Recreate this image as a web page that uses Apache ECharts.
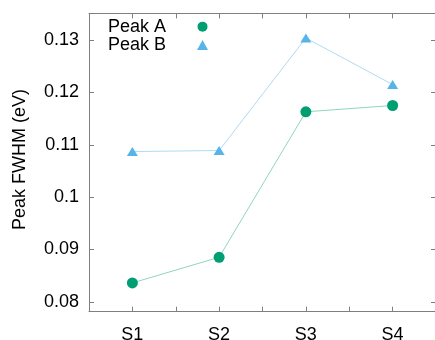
<!DOCTYPE html>
<html>
<head>
<meta charset="utf-8">
<script src="https://cdn.jsdelivr.net/npm/echarts@6/dist/echarts.min.js"></script>
<style>
  html, body { margin: 0; padding: 0; background: #fff; }
  #chart { width: 435px; height: 340px; }
</style>
</head>
<body>
<div id="chart"></div>
<script>
const samples = ['S1', 'S2', 'S3', 'S4']
const peakA = [0.0836, 0.0885, 0.1163, 0.1175]
const peakB = [0.1087, 0.1089, 0.1304, 0.1215]

const fontFamily = '"Liberation Sans", Arial, Helvetica, sans-serif'
const axisGray = '#7f7f7f'

// pair each value with its sample position (1..n)
function toPoints(values) {
  return values.map((v, i) => [i + 1, v])
}

const chart = echarts.init(document.getElementById('chart'))

const xBase = {
  type: 'value',
  min: 0.5,
  max: 4.5,
  interval: 0.5,
  splitLine: { show: false },
  axisLine: { lineStyle: { color: axisGray, width: 1 } },
  axisTick: { inside: true, length: 5, lineStyle: { color: axisGray } }
}
const yBase = {
  type: 'value',
  min: 0.0781,
  max: 0.1351,
  splitLine: { show: false },
  axisLine: { show: true, lineStyle: { color: axisGray, width: 1 } },
  axisTick: { show: true, inside: true, length: 5, lineStyle: { color: axisGray } }
}

const option = {
  animation: false,
  textStyle: { fontFamily: fontFamily },
  grid: {
    left: 89, top: 13.4, width: 347, bottom: 28.3,
    containLabel: false,
    outerBoundsMode: 'none'
  },
  legend: {
    left: 108,
    top: 17.5,
    padding: 0,
    orient: 'vertical',
    align: 'right',
    itemWidth: 11,
    itemHeight: 10,
    itemGap: 0,
    symbolKeepAspect: true,
    textStyle: {
      fontSize: 18, color: '#000', fontFamily: fontFamily,
      lineHeight: 18.3, padding: [0, 26, 0, 0]
    },
    data: [
      { name: 'Peak A', icon: 'circle' },
      { name: 'Peak B', icon: 'triangle' }
    ]
  },
  xAxis: [
    Object.assign({}, xBase, {
      position: 'bottom',
      axisLabel: {
        margin: 14,
        fontSize: 18,
        color: '#000',
        fontFamily: fontFamily,
        formatter: v => (Number.isInteger(v) ? samples[v - 1] || '' : '')
      }
    }),
    Object.assign({}, xBase, { position: 'top', axisLabel: { show: false } })
  ],
  yAxis: [
    Object.assign({}, yBase, {
      position: 'left',
      name: 'Peak FWHM (eV)',
      nameLocation: 'middle',
      nameRotate: 90,
      nameGap: 60,
      nameTextStyle: { fontSize: 18, color: '#000', fontFamily: fontFamily, padding: [0, 0, 0, 6] },
      axisLabel: {
        margin: 10,
        fontSize: 18,
        color: '#000',
        fontFamily: fontFamily,
        showMinLabel: false,
        showMaxLabel: false,
        formatter: v => String(Math.round(v * 100) / 100)
      }
    }),
    Object.assign({}, yBase, { position: 'right', axisLabel: { show: false } })
  ],
  series: [
    {
      name: 'Peak A',
      type: 'line',
      data: toPoints(peakA),
      symbol: 'circle',
      symbolSize: 11,
      itemStyle: { color: '#009e73' },
      lineStyle: { color: '#8fd6bd', width: 1 }
    },
    {
      name: 'Peak B',
      type: 'line',
      data: toPoints(peakB),
      symbol: 'triangle',
      symbolSize: [11, 9],
      itemStyle: { color: '#56b4e9' },
      lineStyle: { color: '#aedaf3', width: 1 }
    }
  ]
}

chart.setOption(option)
</script>
</body>
</html>
